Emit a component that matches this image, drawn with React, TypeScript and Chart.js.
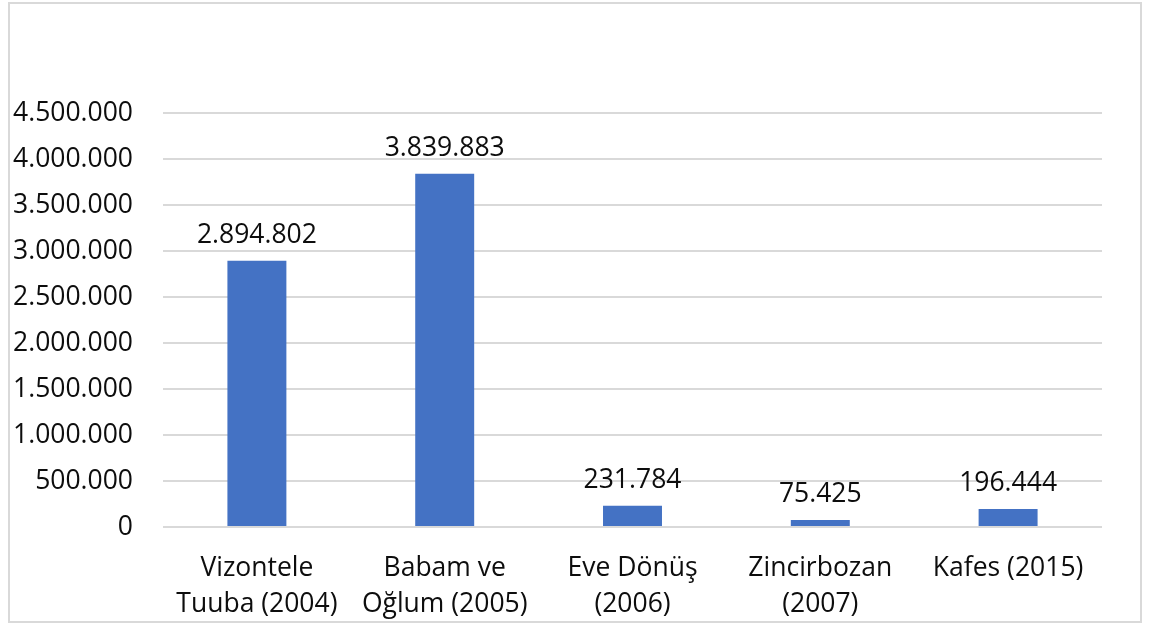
import React, { useEffect, useRef } from "react";
import { Chart, registerables } from "chart.js";

Chart.register(...registerables);

const categories: string[][] = [
  ["Vizontele", "Tuuba (2004)"],
  ["Babam ve", "Oğlum (2005)"],
  ["Eve Dönüş", "(2006)"],
  ["Zincirbozan", "(2007)"],
  ["Kafes (2015)"],
];
const viewers: number[] = [2894802, 3839883, 231784, 75425, 196444];
const yMax = 4500000;
const yStep = 500000;

const fmt = (v: number) =>
  Math.round(v)
    .toString()
    .replace(/\B(?=(\d{3})+(?!\d))/g, ".");

const FONT = "'Open Sans', 'Noto Sans', sans-serif";
const TEXT = "#0d0d0d";

const framePlugin = {
  id: "frame",
  beforeDraw(chart: any) {
    const ctx = chart.ctx;
    ctx.save();
    ctx.fillStyle = "#ffffff";
    ctx.fillRect(0, 0, chart.width, chart.height);
    ctx.strokeStyle = "#d9d9d9";
    ctx.lineWidth = 2;
    ctx.strokeRect(9, 3, 1132, 619);
    ctx.restore();
  },
};

const valueLabels = {
  id: "valueLabels",
  afterDatasetsDraw(chart: any) {
    const ctx = chart.ctx;
    const meta = chart.getDatasetMeta(0);
    ctx.save();
    ctx.font = `26.5px ${FONT}`;
    ctx.fillStyle = TEXT;
    ctx.textAlign = "center";
    ctx.textBaseline = "alphabetic";
    meta.data.forEach((bar: any, i: number) => {
      ctx.fillText(fmt(viewers[i]), bar.x, bar.y - 18);
    });
    ctx.restore();
  },
};

export default function App() {
  const ref = useRef<HTMLCanvasElement | null>(null);
  useEffect(() => {
    if (!ref.current) return;
    const chart = new Chart(ref.current, {
      type: "bar",
      data: {
        labels: categories,
        datasets: [
          {
            data: viewers,
            backgroundColor: "#4472C4",
            borderWidth: 0,
            categoryPercentage: 1,
            barPercentage: 0.314,
          },
        ],
      },
      options: {
        animation: false,
        responsive: false,
        maintainAspectRatio: false,
        layout: { padding: { left: 13, right: 50, top: 113, bottom: 0 } },
        plugins: {
          legend: { display: false },
          tooltip: { enabled: false },
          title: { display: false },
        },
        scales: {
          x: {
            grid: { display: false, drawTicks: false },
            border: { display: false },
            ticks: {
              color: TEXT,
              font: { family: FONT, size: 26.5, lineHeight: 1.36 },
              padding: 23,
              maxRotation: 0,
              autoSkip: false,
            },
            afterFit(scale: any) {
              scale.height = 97;
            },
          },
          y: {
            min: 0,
            max: yMax,
            grid: { color: "#d9d9d9", lineWidth: 2, drawTicks: false },
            border: { display: false },
            ticks: {
              stepSize: yStep,
              color: TEXT,
              font: { family: FONT, size: 26.5 },
              padding: 30,
              callback: (v: any) => fmt(Number(v)),
            },
            afterFit(scale: any) {
              scale.width = 150;
            },
          },
        },
      },
      plugins: [framePlugin, valueLabels],
    });
    return () => chart.destroy();
  }, []);
  return (
    <div style={{ position: "absolute", left: 0, top: 0, width: 1152, height: 624 }}>
      <canvas ref={ref} width={1152} height={624} style={{ display: "block" }} />
    </div>
  );
}
